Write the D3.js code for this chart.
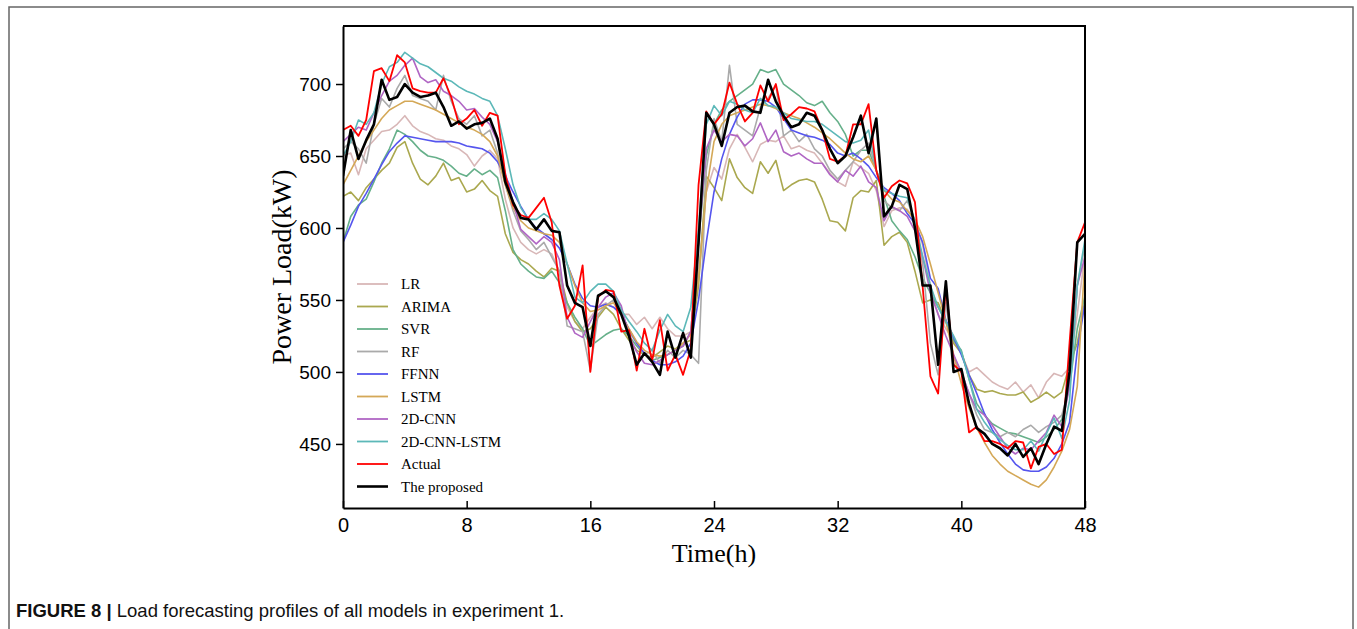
<!DOCTYPE html>
<html>
<head>
<meta charset="utf-8">
<script src="https://cdn.jsdelivr.net/npm/d3@7"></script>
<style>
  body { margin: 0; background: #fff; }
</style>
</head>
<body>
<div class="container"></div>
<script>
// time axis, every half hour over two days
const hours = d3.range(0, 48.01, 0.5);

const names = ['LR', 'ARIMA', 'SVR', 'RF', 'FFNN', 'LSTM', '2D-CNN', '2D-CNN-LSTM', 'Actual', 'The proposed'];
const colors = ['#d8b7b7', '#aaa84f', '#66b08a', '#aaaaaa', '#5555ee', '#d4a857', '#b066c4', '#5cb8b8', '#ff0000', '#000000'];

const lr = [650, 652, 637, 655, 661, 667, 668, 672, 678, 671, 667, 665, 662, 661, 657, 655,
  651, 643, 650, 654, 648, 620, 600, 590, 585, 582, 585, 582, 570, 545, 535, 530,
  538, 545, 548, 545, 540, 540, 533, 538, 530, 538, 530, 525, 525, 528, 570, 625,
  642, 634, 655, 665, 656, 646, 658, 661, 660, 664, 655, 657, 654, 652, 645, 638,
  632, 629, 646, 642, 638, 626, 601, 612, 614, 613, 605, 588, 560, 540, 530, 522,
  513, 500, 503, 498, 493, 490, 488, 493, 486, 491, 482, 493, 499, 497, 503, 540,
  582];

const arima = [622, 625, 619, 628, 634, 640, 645, 656, 660, 645, 634, 630, 636, 645, 633, 635,
  625, 627, 633, 626, 622, 596, 583, 578, 575, 570, 566, 572, 570, 548, 535, 528,
  530, 538, 545, 540, 530, 522, 515, 512, 510, 514, 518, 516, 520, 522, 560, 636,
  628, 619, 648, 635, 628, 624, 646, 638, 647, 626, 630, 633, 634, 632, 620, 605,
  604, 598, 621, 626, 625, 633, 588, 594, 597, 590, 570, 548, 550, 548, 535, 520,
  513, 498, 488, 486, 487, 485, 484, 484, 486, 479, 482, 486, 482, 486, 505, 520,
  550];

const svr = [590, 608, 616, 620, 632, 645, 655, 668, 665, 660, 654, 650, 649, 647, 643, 638,
  636, 641, 637, 640, 635, 612, 585, 575, 570, 566, 565, 570, 562, 548, 538, 530,
  518, 522, 526, 529, 530, 525, 518, 512, 508, 510, 512, 515, 518, 528, 590, 650,
  672, 682, 688, 692, 696, 700, 710, 708, 710, 700, 696, 692, 687, 685, 688, 680,
  674, 665, 650, 654, 654, 640, 622, 605, 598, 592, 580, 565, 555, 545, 535, 522,
  515, 495, 478, 470, 464, 461, 458, 457, 455, 453, 451, 455, 460, 467, 490, 530,
  553];

const rf = [655, 660, 655, 645, 672, 690, 684, 697, 706, 692, 690, 688, 682, 706, 688, 676,
  672, 678, 664, 668, 652, 630, 612, 598, 592, 585, 590, 580, 570, 532, 530, 528,
  501, 540, 546, 550, 542, 528, 520, 512, 515, 506, 515, 510, 515, 512, 506, 640,
  676, 660, 713, 672, 668, 664, 684, 690, 699, 664, 668, 660, 665, 655, 650, 640,
  634, 640, 646, 654, 659, 640, 619, 614, 612, 619, 605, 575, 520, 498, 548, 510,
  500, 485, 470, 460, 458, 455, 458, 455, 460, 463, 458, 462, 465, 470, 490, 560,
  588];

const ffnn = [590, 602, 615, 624, 634, 644, 653, 659, 664, 663, 662, 661, 660, 660, 660, 659,
  657, 656, 655, 652, 646, 636, 625, 615, 606, 600, 596, 592, 586, 575, 561, 551,
  546, 545, 547, 545, 540, 530, 520, 513, 508, 505, 505, 507, 511, 520, 550, 590,
  625, 648, 665, 677, 686, 689, 689, 688, 684, 676, 668, 666, 664, 663, 661, 658,
  652, 650, 652, 648, 643, 635, 628, 624, 619, 610, 603, 590, 565, 558, 536, 524,
  512, 498, 485, 471, 460, 451, 443, 436, 432, 431, 431, 434, 440, 450, 465, 515,
  548];

const lstm = [630, 640, 650, 660, 668, 676, 682, 685, 688, 688, 686, 684, 682, 679, 676, 673,
  670, 668, 665, 660, 650, 630, 614, 605, 600, 598, 596, 595, 590, 575, 560, 548,
  542, 543, 546, 548, 540, 530, 521, 515, 512, 511, 512, 515, 520, 526, 565, 625,
  660, 672, 678, 680, 682, 684, 686, 685, 683, 680, 678, 676, 673, 670, 666, 662,
  657, 652, 648, 646, 650, 640, 626, 620, 618, 612, 606, 594, 575, 555, 535, 512,
  492, 475, 461, 451, 442, 436, 431, 428, 425, 422, 420, 425, 434, 445, 460, 490,
  578];

const cnn = [660, 665, 670, 668, 680, 692, 702, 706, 713, 718, 705, 701, 703, 695, 692, 688,
  682, 683, 677, 672, 660, 638, 618, 599, 594, 589, 594, 590, 578, 538, 527, 524,
  535, 545, 552, 555, 546, 525, 514, 506, 505, 508, 512, 515, 518, 528, 590, 655,
  668, 660, 665, 664, 657, 662, 673, 660, 668, 653, 650, 652, 648, 645, 645, 637,
  632, 640, 636, 643, 632, 628, 605, 615, 612, 608, 598, 580, 555, 540, 525, 512,
  500, 485, 474, 470, 463, 455, 447, 443, 447, 446, 452, 458, 470, 462, 490, 560,
  580];

const cnnLstm = [650, 660, 675, 672, 680, 700, 712, 715, 722, 718, 714, 712, 708, 704, 702, 698,
  695, 693, 690, 688, 678, 655, 630, 614, 606, 606, 610, 606, 598, 575, 552, 548,
  556, 561, 561, 556, 543, 535, 528, 520, 515, 529, 540, 532, 528, 545, 600, 672,
  685, 678, 688, 686, 682, 680, 690, 685, 684, 680, 676, 675, 674, 674, 672, 668,
  664, 660, 659, 661, 668, 640, 626, 624, 622, 621, 605, 580, 560, 545, 535, 525,
  514, 495, 474, 465, 458, 453, 449, 446, 446, 452, 445, 457, 468, 454, 480, 560,
  592];

const actual = [668, 671, 664, 675, 709, 711, 702, 720, 715, 697, 695, 694, 694, 704, 691, 672,
  676, 682, 671, 680, 678, 637, 616, 609, 607, 614, 621, 604, 560, 537, 546, 574,
  500, 552, 557, 556, 528, 529, 501, 530, 508, 536, 501, 512, 498, 516, 630, 681,
  672, 679, 701, 686, 674, 680, 699, 688, 700, 675, 679, 684, 683, 681, 668, 648,
  646, 650, 672, 672, 686, 640, 621, 629, 633, 631, 618, 559, 497, 485, 560, 505,
  500, 458, 462, 452, 452, 450, 447, 452, 451, 433, 448, 450, 443, 446, 520, 590,
  604];

const proposed = [636, 668, 648, 661, 672, 703, 689, 691, 700, 694, 691, 692, 694, 684, 671, 674,
  669, 672, 673, 676, 662, 632, 618, 607, 606, 599, 606, 598, 597, 560, 548, 545,
  518, 553, 556, 552, 540, 525, 505, 513, 507, 498, 528, 510, 527, 510, 590, 680,
  672, 657, 680, 684, 685, 681, 680, 703, 688, 678, 670, 672, 680, 678, 668, 655,
  645, 650, 663, 678, 652, 676, 608, 615, 630, 627, 600, 560, 560, 505, 563, 500,
  502, 478, 461, 457, 450, 447, 442, 450, 441, 447, 436, 450, 462, 459, 500, 590,
  596];

const seriesValues = [lr, arima, svr, rf, ffnn, lstm, cnn, cnnLstm, actual, proposed];

const xTicks = [0, 8, 16, 24, 32, 40, 48];
const yTicks = [450, 500, 550, 600, 650, 700];

const width = 1357;
const height = 629;
const plotLeft = 343, plotRight = 1085, plotTop = 26, plotBottom = 508;

const svg = d3.select('.container')
  .append('svg')
  .attr('width', width)
  .attr('height', height);

// outer figure frame
svg.append('rect')
  .attr('x', 9).attr('y', 7)
  .attr('width', 1344).attr('height', 640)
  .attr('fill', 'none')
  .attr('stroke', '#666')
  .attr('stroke-width', 1.5);

const x = d3.scaleLinear().domain([0, 48]).range([plotLeft, plotRight]);
const y = d3.scaleLinear().domain([405.5, 740.3]).range([plotBottom, plotTop]);

svg.append('clipPath').attr('id', 'plot')
  .append('rect')
  .attr('x', plotLeft).attr('y', plotTop)
  .attr('width', plotRight - plotLeft).attr('height', plotBottom - plotTop);

const line = d3.line()
  .x((d, i) => x(hours[i]))
  .y(d => y(d));

const lines = svg.append('g').attr('clip-path', 'url(#plot)');
seriesValues.forEach((vals, k) => {
  lines.append('path')
    .datum(vals)
    .attr('d', line)
    .attr('fill', 'none')
    .attr('stroke', colors[k])
    .attr('stroke-width', k === 9 ? 2.6 : (k === 8 ? 1.8 : 1.6))
    .attr('stroke-linejoin', 'round');
});

// axes
const xAxis = svg.append('g')
  .attr('transform', `translate(0,${plotBottom})`)
  .call(d3.axisBottom(x).tickValues(xTicks).tickSize(-7).tickPadding(10).tickSizeOuter(0));

const yAxis = svg.append('g')
  .attr('transform', `translate(${plotLeft},0)`)
  .call(d3.axisLeft(y).tickValues(yTicks).tickSize(7).tickPadding(5).tickSizeOuter(0));

[xAxis, yAxis].forEach(ax => {
  ax.select('.domain').attr('stroke', '#000').attr('stroke-width', 2);
  ax.selectAll('.tick line').attr('stroke', '#000').attr('stroke-width', 1.5);
  ax.selectAll('.tick text')
    .attr('fill', '#000')
    .style('font-family', '"Liberation Sans", Arial, sans-serif')
    .style('font-size', '19px');
});
xAxis.selectAll('.tick text').style('font-size', '20px');

// top and right sides of the box
svg.append('path')
  .attr('d', `M${plotLeft},${plotTop}H${plotRight}V${plotBottom}`)
  .attr('fill', 'none')
  .attr('stroke', '#000')
  .attr('stroke-width', 2);

// axis titles
svg.append('text')
  .attr('x', (plotLeft + plotRight) / 2)
  .attr('y', 562)
  .attr('text-anchor', 'middle')
  .style('font-family', '"Liberation Serif", "Times New Roman", serif')
  .style('font-size', '26px')
  .text('Time(h)');

svg.append('text')
  .attr('transform', `translate(291,${(plotTop + plotBottom) / 2}) rotate(-90)`)
  .attr('text-anchor', 'middle')
  .style('font-family', '"Liberation Serif", "Times New Roman", serif')
  .style('font-size', '28px')
  .text('Power Load(kW)');

// legend
const legend = svg.append('g');
names.forEach((name, k) => {
  const ly = 284 + k * 22.5;
  legend.append('line')
    .attr('x1', 357).attr('x2', 388)
    .attr('y1', ly).attr('y2', ly)
    .attr('stroke', colors[k])
    .attr('stroke-width', k === 9 ? 2.6 : 1.8);
  legend.append('text')
    .attr('x', 401).attr('y', ly + 5)
    .style('font-family', '"Liberation Serif", "Times New Roman", serif')
    .style('font-size', '15px')
    .text(name);
});

// caption
const caption = svg.append('text')
  .attr('x', 16).attr('y', 617)
  .style('font-family', '"Liberation Sans", Arial, sans-serif')
  .style('font-size', '18.5px')
  .attr('fill', '#111');
caption.append('tspan').style('font-weight', 'bold').text('FIGURE 8 | ');
caption.append('tspan').text('Load forecasting profiles of all models in experiment 1.');
</script>
</body>
</html>
